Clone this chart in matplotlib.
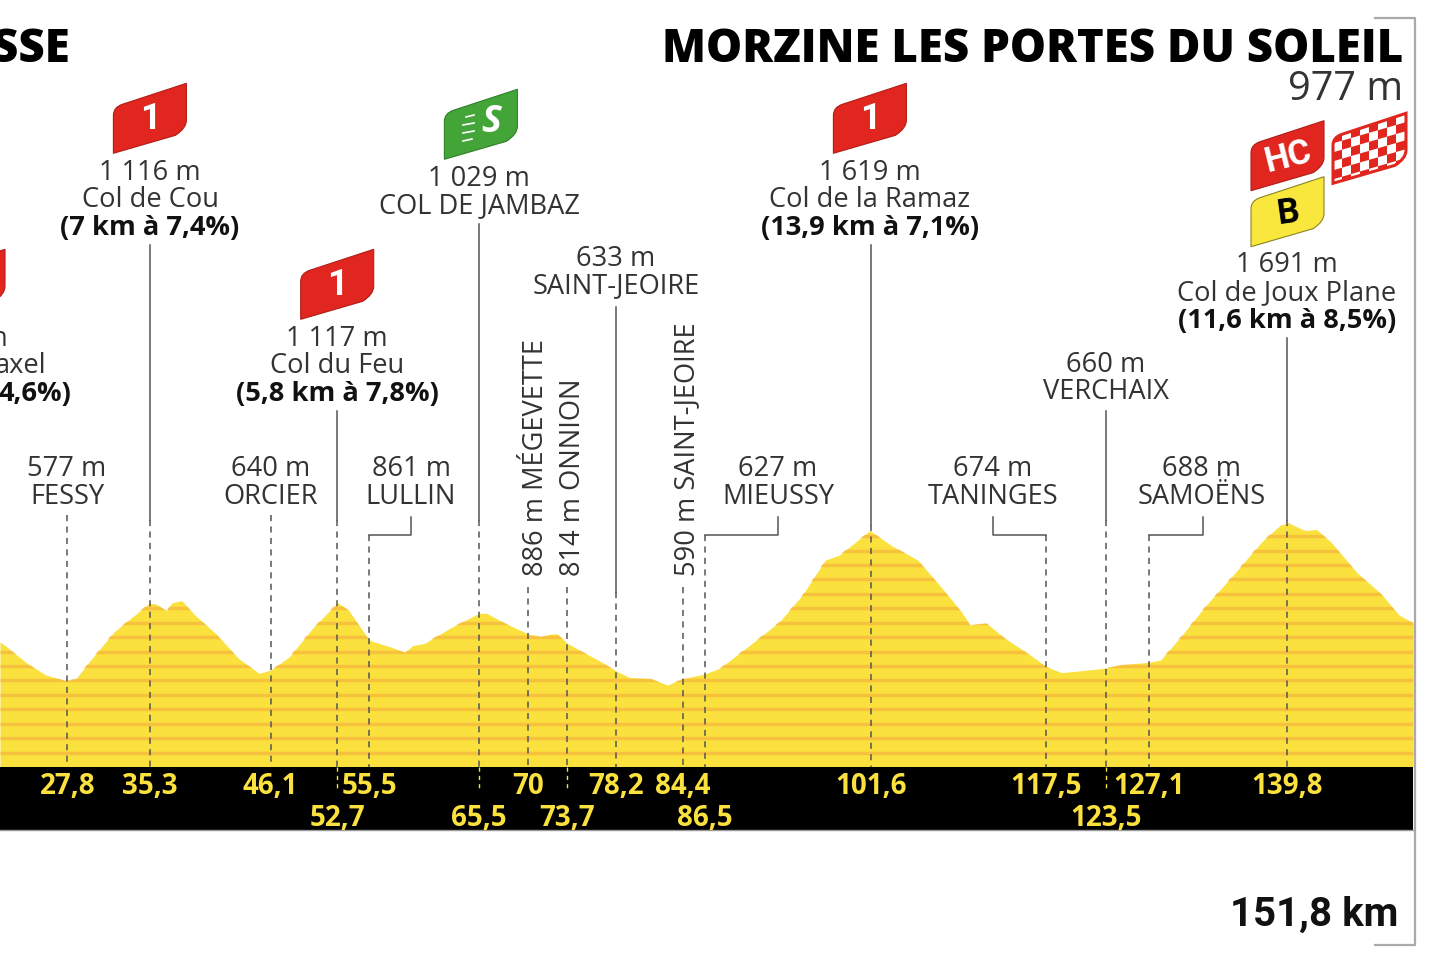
import matplotlib
matplotlib.use("Agg")
import matplotlib.pyplot as plt
from matplotlib.patches import PathPatch, Rectangle, Polygon
from matplotlib.path import Path
from matplotlib.transforms import Affine2D, blended_transform_factory

# profile
profile_km = [21.6, 22.4, 24.1, 25.8, 27.7, 28.6, 29.8, 32.1, 35.3, 35.9, 36.9, 37.4, 38.3, 39.5, 41.4,
              43.5, 45.4, 46.5, 48.2, 50.3, 52.6, 53.6, 55.3, 55.7, 57.4, 58.8, 59.5, 60.6, 62.9, 65.6,
              66.3, 68.0, 70.1, 71.3, 72.2, 72.8, 73.7, 75.1, 76.8, 78.3, 79.4, 81.3, 82.9, 84.4, 86.3,
              87.7, 90.3, 93.2, 95.3, 97.4, 98.7, 101.5, 103.5, 105.9, 108.0, 109.9, 110.7, 112.2, 113.9,
              116.0, 117.7, 119.1, 121.0, 123.1, 124.8, 127.1, 128.2, 130.3, 132.4, 135.0, 137.5, 139.2,
              140.0, 141.5, 142.5, 143.8, 146.3, 148.4, 150.1, 151.4]
profile_m = [868, 822, 718, 638, 596, 614, 730, 938, 1134, 1130, 1083, 1139, 1153, 1053, 926,
             753, 649, 672, 765, 961, 1139, 1088, 903, 873, 834, 795, 841, 857, 961, 1065,
             1065, 996, 922, 903, 922, 922, 857, 799, 730, 661, 621, 614, 568, 614, 644,
             684, 834, 1007, 1192, 1434, 1469, 1638, 1534, 1434, 1250, 1076, 984, 996, 892,
             788, 695, 654, 668, 684, 711, 725, 741, 926, 1123, 1342, 1562, 1677,
             1689, 1638, 1647, 1562, 1342, 1204, 1053, 1000]
stripe_m = list(range(100, 1800, 100))

# the printed distances, and where each one really sits along the profile
label_row1 = ["27,8", "35,3", "46,1", "55,5", "70", "78,2", "84,4", "101,6", "117,5", "127,1", "139,8"]
km_row1 = [27.8, 35.4, 46.45, 55.5, 70.1, 78.2, 84.3, 101.6, 117.65, 127.1, 139.8]
label_row2 = ["52,7", "65,5", "73,7", "86,5", "123,5"]
km_row2 = [52.55, 65.55, 73.7, 86.35, 123.2]

# km, top of solid leader (None = dashed only), start of the dashes
leader_km = [27.8, 35.4, 46.45, 52.55, 65.55, 70.1, 73.7, 78.2, 84.3, 101.6, 123.2, 139.8]
leader_top = [None, 245, None, 411, 224, None, None, 307, None, 245, 411, 338]
leader_dash = [515, 520, 515, 520, 520, 587, 587, 592, 587, 525, 520, 520]

# elbow leaders: km, x of the label
elbow_km = [55.5, 86.35, 117.65, 127.1]
elbow_label_x = [411, 778, 993, 1203]

# centred labels: x, y of the first line, lines
upright_x = [150, 337, 479, 616, 67, 271, 411, 778, 870, 993, 1106, 1202, 1287]
upright_y = [170, 336, 176, 256, 467, 467, 467, 467, 170, 467, 362, 467, 263]
upright_text = [["1 116 m", "Col de Cou", "(7 km à 7,4%)"], ["1 117 m", "Col du Feu", "(5,8 km à 7,8%)"],
                ["1 029 m", "COL DE JAMBAZ"], ["633 m", "SAINT-JEOIRE"], ["577 m", "FESSY"], ["640 m", "ORCIER"],
                ["861 m", "LULLIN"], ["627 m", "MIEUSSY"], ["1 619 m", "Col de la Ramaz", "(13,9 km à 7,1%)"],
                ["674 m", "TANINGES"], ["660 m", "VERCHAIX"], ["688 m", "SAMOËNS"],
                ["1 691 m", "Col de Joux Plane", "(11,6 km à 8,5%)"]]

rotated_x = [536, 573.5, 687]
rotated_text = ["886 m MÉGEVETTE", "814 m ONNION", "590 m SAINT-JEOIRE"]

RED = "#e1261f"
YELLOW = "#fbe13d"
STRIPE = "#f6bd3d"
GREY = "#555555"
TEXT = "#333333"
BAND_BOTTOM = 830
BASE_Y = 767
PX_KM = 10.888
PX_M = 0.1443
SANS = "Open Sans"
LABEL_SIZE = 19.6
BOLD_SIZE = 19.6

fig = plt.figure(figsize=(14.4, 9.6), dpi=100)
ax = fig.add_axes([0, 0, 1, 1])
ax.set_xlim(235.2 / PX_KM, (1440 + 235.2) / PX_KM)
ax.set_ylim((BASE_Y - 960) / PX_M, BASE_Y / PX_M)
ax.axis("off")

# pixels from the top left, for everything that is only layout
px = Affine2D().scale(1, -1).translate(0, 960)
km_y = blended_transform_factory(ax.transData, px)

# yellow profile and its contour stripes
ax.fill_between(profile_km, 0, profile_m, color=YELLOW, lw=0, zorder=1)
outline = Polygon(list(zip([profile_km[0]] + profile_km + [profile_km[-1]], [0] + profile_m + [0])),
                  transform=ax.transData, fc="none", ec="none")
ax.add_patch(outline)
for m in stripe_m:
    line = ax.plot([profile_km[0], profile_km[-1]], [m, m], color=STRIPE, lw=2.5, alpha=0.85, zorder=2,
                   solid_capstyle="butt")[0]
    line.set_clip_path(outline)

# black distance band
ax.add_patch(Rectangle((ax.get_xlim()[0], BASE_Y), profile_km[-1] - ax.get_xlim()[0], BAND_BOTTOM - BASE_Y,
                       transform=km_y, fc="black", ec="none", zorder=3))
ax.plot([ax.get_xlim()[0], profile_km[-1]], [BAND_BOTTOM, BAND_BOTTOM], transform=km_y, color="#999999", lw=1, zorder=3)

# leaders
for k, top, dash in zip(leader_km, leader_top, leader_dash):
    if top is not None:
        ax.plot([k, k], [top, dash], transform=km_y, color=GREY, lw=1.1, zorder=4)
    ax.plot([k, k], [dash, BASE_Y], transform=km_y, color=GREY, lw=1.1, ls=(0, (4, 3.5)), zorder=4)
for k, lx in zip(elbow_km, elbow_label_x):
    x = (k * PX_KM) - 235.2
    ax.plot([lx, lx, x], [517, 535, 535], transform=px, color=GREY, lw=1.1, zorder=4)
    ax.plot([k, k], [535, BASE_Y], transform=km_y, color=GREY, lw=1.1, ls=(0, (4, 3.5)), zorder=4)

# short ticks that run on into the band
for k in [52.55, 65.55, 73.7, 123.2]:
    ax.plot([k, k], [BASE_Y, 792], transform=km_y, color=YELLOW, lw=1, ls=(0, (3, 3)), zorder=4)

# km labels
for k, s in zip(km_row1, label_row1):
    ax.text(k, 787, s, transform=km_y, ha="center", va="center", color=YELLOW, fontsize=20, fontweight="bold",
            family=SANS, zorder=5)
for k, s in zip(km_row2, label_row2):
    ax.text(k, 819, s, transform=km_y, ha="center", va="center", color=YELLOW, fontsize=20, fontweight="bold",
            family=SANS, zorder=5)

# place labels
for x, y, lines in zip(upright_x, upright_y, upright_text):
    for i, s in enumerate(lines):
        bold = s.startswith("(")
        ax.text(x, y + 2.5 + i * 27.8, s, transform=px, ha="center", va="center", color="#111111" if bold else TEXT,
                fontsize=BOLD_SIZE if bold else LABEL_SIZE, fontweight="bold" if bold else "normal", family=SANS)
for x, s in zip(rotated_x, rotated_text):
    ax.text(x, 576, s, transform=px, rotation=90, ha="center", va="bottom", color=TEXT, fontsize=LABEL_SIZE, family=SANS)

# the place cut off by the left edge
ax.text(7, 338.5, "n", transform=px, ha="right", va="center", color=TEXT, fontsize=LABEL_SIZE, family=SANS)
ax.text(46, 366, "axel", transform=px, ha="right", va="center", color=TEXT, fontsize=LABEL_SIZE, family=SANS)
ax.text(71, 394, "4,6%)", transform=px, ha="right", va="center", color="#111111", fontsize=BOLD_SIZE, fontweight="bold",
        family=SANS)

# titles
ax.text(70, 50, "SSE", transform=px, ha="right", va="center", color="black", fontsize=32.8, fontweight="heavy", family=SANS)
ax.text(1403, 50, "MORZINE LES PORTES DU SOLEIL", transform=px, ha="right", va="center", color="black", fontsize=32.8,
        fontweight="heavy", family=SANS)
ax.text(1403, 90, "977 m", transform=px, ha="right", va="center", color=TEXT, fontsize=28.6, family=SANS)
ax.text(1398, 915, "151,8 km", transform=px, ha="right", va="center", color="#111111", fontsize=29, fontweight="bold",
        family="Roboto")

# bracket on the right
ax.plot([1375, 1415, 1415, 1375], [18, 18, 945, 945], transform=px, color="#aaaaaa", lw=1.6)


def flag_path(x0, y0):
    verts = [(0, 70), (0, 32), (0, 24), (9, 21), (73, 0), (73, 37), (73, 45), (62, 52), (0, 70), (0, 70)]
    codes = [Path.MOVETO, Path.LINETO, Path.CURVE3, Path.CURVE3, Path.LINETO, Path.LINETO, Path.CURVE3, Path.CURVE3,
             Path.LINETO, Path.CLOSEPOLY]
    return Path([(x0 + a, y0 + b) for a, b in verts], codes)


def flag(x0, y0, color, edge, lw=0.8):
    patch = PathPatch(flag_path(x0, y0), fc=color, ec=edge, lw=lw, transform=px, zorder=6)
    ax.add_patch(patch)
    return patch


def flag_text(x0, y0, s, color="white", size=26, rotation=0):
    ax.text(x0 + 37, y0 + 36, s, transform=px, ha="center", va="center", color=color, fontsize=size, fontweight="bold",
            family="Roboto", rotation=rotation, zorder=7)


# climbs
flag(-68, 249.3, RED, "#b01c18")
for x0, y0 in [(113.4, 83.3), (300.7, 249.3), (833.4, 83.3)]:
    flag(x0, y0, RED, "#b01c18")
    flag_text(x0, y0, "1")
flag(1251, 120.7, RED, "#b01c18")
flag_text(1251, 120.7, "HC", size=25, rotation=14)
flag(1251, 176.7, "#f9e73e", "#8a8420")
flag_text(1251, 176.7, "B", color="black", size=25, rotation=8)

# sprint
flag(444.4, 89.3, "#43a537", "#2f7f28")
ax.text(491, 122, "S", transform=px, ha="center", va="center", color="white", fontsize=27, fontweight="bold",
        style="italic", family=SANS, zorder=7)
for i, (a, b) in enumerate([(466, 474), (463, 474), (463, 474), (463, 472)]):
    ax.plot([a, b], [117 + i * 8, 115 + i * 8], transform=px, color="white", lw=1.2, zorder=7)

# finish flag: red edge, white ground, red squares
flag(1333, 113.3, "white", RED, lw=2.2)
cell_w = 9.0
cell_h = 9.0
for row in range(7):
    for col in range(9):
        if (row + col) % 2:
            continue
        cx = 1333 + col * cell_w
        cy = 113.3 + 21 + row * cell_h - col * cell_w * 0.29
        cell = Polygon([(cx, cy), (cx + cell_w, cy - cell_w * 0.29), (cx + cell_w, cy - cell_w * 0.29 + cell_h),
                        (cx, cy + cell_h)], transform=px, fc=RED, ec="none", zorder=7)
        ax.add_patch(cell)
        cell.set_clip_path(flag_path(1333, 113.3), px)

fig.savefig("out.png", dpi=100)
